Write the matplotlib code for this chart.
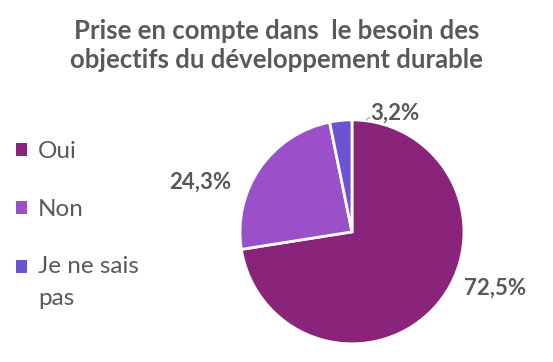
import matplotlib.pyplot as plt
import numpy as np
from matplotlib.patches import Patch, Rectangle
from matplotlib.legend_handler import HandlerPatch

categories = ["Oui", "Non", "Je ne sais\npas"]
values = [72.5, 24.3, 3.2]
labels = ["72,5%", "24,3%", "3,2%"]
colors = ["#8a237a", "#9a50c9", "#6b53d1"]
title = "Prise en compte dans  le besoin des\nobjectifs du développement durable"

plt.rcParams['font.family'] = ['Lato', 'DejaVu Sans']
gray = "#595959"

fig = plt.figure(figsize=(5.53, 3.62), dpi=100)
fig.patch.set_facecolor("white")

ax = fig.add_axes([0.434, 0.05, 0.405, 0.619])
wedges, _ = ax.pie(values, colors=colors, startangle=90, counterclock=False,
                   wedgeprops=dict(edgecolor="white", linewidth=2))
ax.set_xlim(-1, 1)
ax.set_ylim(-1, 1)
ax.set_aspect("equal")

# label positions (in pie radius units)
pos = [(1.28, -0.50), (-1.36, 0.44), (0.38, 1.06)]
for (x, y), lab in zip(pos, labels):
    ax.text(x, y, lab, ha="center", va="center", fontsize=16,
            fontweight="bold", color=gray, clip_on=False)
# leader line for small slice
ax.plot([0.13, 0.15, 0.16], [1.0, 1.02, 1.02], color="#a6a6a6", lw=0.8, clip_on=False)

fig.text(0.5, 0.875, title, ha="center", va="center", fontsize=18.5,
         fontweight="bold", color=gray, linespacing=1.25)

# two-line entry: keep the marker level with the first line
def top_square(legend, orig_handle, xdescent, ydescent, width, height, fontsize):
    return Rectangle((-xdescent, -ydescent + 11.5), width, height)

handles = [Patch(facecolor=c, edgecolor="none") for c in colors]
leg = fig.legend(handles, categories, loc="upper left", bbox_to_anchor=(-0.01, 0.67),
                 frameon=False, fontsize=17.5, labelspacing=1.5, handlelength=0.45,
                 handleheight=0.45, handletextpad=0.45,
                 handler_map={handles[2]: HandlerPatch(patch_func=top_square)})
for t in leg.get_texts():
    t.set_color(gray)
    t.set_linespacing(1.65)

fig.savefig("out.png", dpi=100)
